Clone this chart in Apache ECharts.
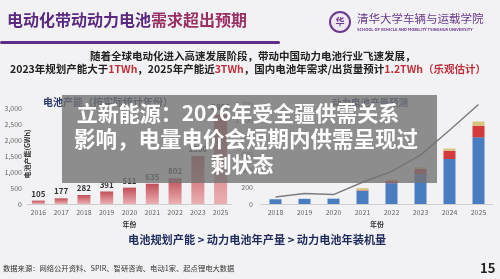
<!DOCTYPE html>
<html>
<head>
<meta charset="utf-8">
<script src="https://cdn.jsdelivr.net/npm/echarts@6/dist/echarts.min.js"></script>
<style>
  html, body { margin: 0; padding: 0; background: #f2f2f4; }
  #main { width: 500px; height: 279px; }
</style>
</head>
<body>
<div id="main"></div>
<script>
// 电池规划产能 (GWh)
var capYears = ['2016', '2017', '2018', '2019', '2020', '2021', '2022', '2023', '2025']
var capValues = [105, 177, 282, 391, 511, 635, 802, 1500, 2800]

// 动力电池年产量 / 装机量 (GWh)
var prodYears = ['2018', '2019', '2020', '2021', '2022', '2023', '2024', '2025']
var prodLine = [83, 127, 113, 261, 391, 587, 885, 1194]
var stackBlue = [57, 62, 64, 160, 250, 360, 540, 800]
var stackRed = [0, 0, 0, 5, 25, 60, 100, 140]
var stackYellow = [0, 0, 0, 25, 15, 20, 25, 50]

var cn = '"Noto Sans CJK SC", "Noto Sans", sans-serif'
var chartDom = document.getElementById('main')
var myChart = echarts.init(chartDom)

var axisTxt = { fontSize: 7, color: '#666', fontFamily: cn }

var option = {
  backgroundColor: '#f2f2f4',
  animation: false,
  textStyle: { fontFamily: cn },
  grid: [
    { left: 27, top: 108, width: 205, height: 96 },
    { left: 261, top: 104, width: 232, height: 100 }
  ],
  xAxis: [{
    gridIndex: 0,
    type: 'category',
    data: capYears,
    axisLine: { lineStyle: { color: '#cfcfcf' } },
    axisTick: { show: false },
    axisLabel: Object.assign({ margin: 5 }, axisTxt),
    name: '年份',
    nameLocation: 'middle',
    nameGap: 17,
    nameTextStyle: { fontSize: 7, fontWeight: 'bold', color: '#333' }
  }, {
    gridIndex: 1,
    type: 'category',
    data: prodYears,
    axisLine: { lineStyle: { color: '#cfcfcf' } },
    axisTick: { show: false },
    axisLabel: Object.assign({ margin: 5 }, axisTxt),
    name: '年份',
    nameLocation: 'middle',
    nameGap: 17,
    nameTextStyle: { fontSize: 7, fontWeight: 'bold', color: '#333' }
  }],
  yAxis: [{
    gridIndex: 0,
    type: 'value',
    min: 0,
    max: 3000,
    interval: 500,
    splitLine: { show: false },
    axisLine: { show: false },
    axisLabel: Object.assign({ margin: 5 }, axisTxt)
  }, {
    gridIndex: 1,
    type: 'value',
    min: 0,
    max: 1200,
    interval: 200,
    splitLine: { show: false },
    axisLine: { show: false },
    axisLabel: Object.assign({ margin: 8 }, axisTxt)
  }],
  series: [{
    type: 'bar',
    xAxisIndex: 0,
    yAxisIndex: 0,
    data: capValues,
    barWidth: 13,
    itemStyle: {
      color: new echarts.graphic.LinearGradient(0, 0, 0, 1, [
        { offset: 0, color: '#c24e58' },
        { offset: 1, color: '#eab0b3' }
      ])
    },
    label: { show: true, position: 'top', distance: 3, fontSize: 8, fontWeight: 'bold', color: '#333' }
  }, {
    type: 'bar',
    name: 'blue',
    stack: 'p',
    xAxisIndex: 1,
    yAxisIndex: 1,
    data: stackBlue,
    barWidth: 12,
    itemStyle: { color: '#4a7cc0' }
  }, {
    type: 'bar',
    name: 'red',
    stack: 'p',
    xAxisIndex: 1,
    yAxisIndex: 1,
    data: stackRed,
    barWidth: 12,
    itemStyle: { color: '#d23a3c' }
  }, {
    type: 'bar',
    name: 'yellow',
    stack: 'p',
    xAxisIndex: 1,
    yAxisIndex: 1,
    data: stackYellow,
    barWidth: 12,
    itemStyle: { color: '#d8c47e' }
  }, {
    type: 'line',
    xAxisIndex: 1,
    yAxisIndex: 1,
    data: prodLine,
    symbol: 'none',
    lineStyle: { color: '#7d7d80', width: 1.5 },
    label: { show: true, position: 'top', distance: 6, fontSize: 7, color: '#333', fontWeight: 'bold' },
    z: 5
  }],
  graphic: [
    // header
    {
      type: 'text', left: 7, top: 12,
      style: {
        text: '{a|电动化带动动力电池}{b|需求超出预期}',
        rich: {
          a: { fontSize: 16, fontWeight: 'bold', fill: '#5b2a80', fontFamily: cn },
          b: { fontSize: 16, fontWeight: 'bold', fill: '#9a2f63', fontFamily: cn }
        }
      }
    },
    { type: 'rect', left: 0, top: 41, shape: { width: 280, height: 3, r: 1.5 }, style: { fill: '#5e2c86' } },
    // logo
    { type: 'circle', shape: { cx: 340, cy: 22, r: 10 }, style: { fill: '#efe8f3', stroke: '#6a3a8c', lineWidth: 2 } },
    { type: 'text', x: 340, y: 22, style: { text: '华', fontSize: 9, fontWeight: 'bold', fill: '#6a3a8c', align: 'center', verticalAlign: 'middle', fontFamily: cn } },
    { type: 'text', left: 357, top: 13, style: { text: '清华大学车辆与运载学院', fontSize: 11.5, fill: '#6a3a8c', fontFamily: cn } },
    { type: 'text', left: 357, top: 27, style: { text: 'SCHOOL OF VEHICLE AND MOBILITY TSINGHUA UNIVERSITY', fontSize: 4, fontWeight: 'bold', fill: '#6a3a8c', fontFamily: cn } },
    // subtitle
    {
      type: 'text', left: 90, top: 51,
      style: { text: '随着全球电动化进入高速发展阶段，带动中国动力电池行业飞速发展，', fontSize: 10.5, fontWeight: 'bold', fill: '#222', fontFamily: cn }
    },
    {
      type: 'text', left: 10, top: 64,
      style: {
        text: '{k|2023年规划产能大于}{r|1TWh}{k|，2025年产能近}{r|3TWh}{k|，国内电池年需求/出货量预计}{r|1.2TWh（乐观估计）}',
        rich: {
          k: { fontSize: 10.5, fontWeight: 'bold', fill: '#222', fontFamily: cn },
          r: { fontSize: 10.5, fontWeight: 'bold', fill: '#c0303a', fontFamily: cn }
        }
      }
    },
    // chart titles
    { type: 'text', left: 43, top: 97, style: { text: '电池产能（按实际统计年份）', fontSize: 10, fontWeight: 'bold', fill: '#2b3a6a', fontFamily: cn } },
    { type: 'text', left: 332, top: 98, style: { text: '动力电池产量预测', fontSize: 9.5, fontWeight: 'bold', fill: '#2b3a6a', fontFamily: cn } },
    { type: 'text', x: 27, y: 154, rotation: Math.PI / 2, style: { text: '电池产能(GWh)', fontSize: 7, fontWeight: 'bold', fill: '#333', align: 'center', verticalAlign: 'middle', fontFamily: cn } },
    // bottom
    { type: 'text', left: 128, top: 234, style: { text: '电池规划产能 > 动力电池年产量 > 动力电池年装机量', fontSize: 11.2, fontWeight: 'bold', fill: '#1f2b5c', fontFamily: cn } },
    { type: 'text', left: 3, top: 265, style: { text: '数据来源：网络公开资料、SPIR、智研咨询、电动1家、起点锂电大数据', fontSize: 7.3, fill: '#333', fontFamily: cn } },
    { type: 'text', left: 480, top: 262, style: { text: '15', fontSize: 13, fontWeight: 'bold', fill: '#222', fontFamily: cn } },
    // overlay
    { type: 'rect', left: 62, top: 95, z: 100, shape: { width: 375, height: 88 }, style: { fill: 'rgba(115,115,115,0.8)' } },
    { type: 'text', x: 238, y: 113, z: 101, style: { text: '立新能源：2026年受全疆供需关系', fontSize: 21, fontWeight: 'bold', fill: '#fff', align: 'center', verticalAlign: 'middle', fontFamily: cn } },
    { type: 'text', x: 246, y: 139, z: 101, style: { text: '影响，电量电价会短期内供需呈现过', fontSize: 21.5, fontWeight: 'bold', fill: '#fff', align: 'center', verticalAlign: 'middle', fontFamily: cn } },
    { type: 'text', x: 242, y: 164, z: 101, style: { text: '剩状态', fontSize: 21, fontWeight: 'bold', fill: '#fff', align: 'center', verticalAlign: 'middle', fontFamily: cn } }
  ]
}

option && myChart.setOption(option)
</script>
</body>
</html>
